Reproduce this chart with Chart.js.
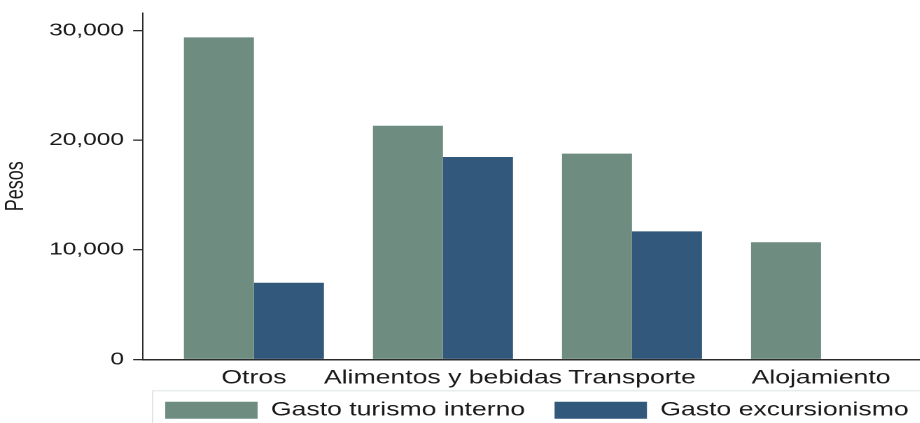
<!DOCTYPE html>
<html><head><meta charset="utf-8">
<script src="https://cdn.jsdelivr.net/npm/chart.js@4.4.1/dist/chart.umd.min.js"></script>
<style>
html,body{margin:0;padding:0;background:#fff;overflow:hidden;}
#frame{width:920px;height:423px;overflow:hidden;position:relative;background:#fff;}
#stretch{width:767px;height:423px;transform:scaleX(1.4);transform-origin:0 0;}
</style></head><body>
<div id="frame"><div id="stretch"><canvas id="c" width="767" height="423"></canvas></div></div>
<script>
const categories = ['Otros', 'Alimentos y bebidas', 'Transporte', 'Alojamiento'];
const seriesNames = ['Gasto turismo interno', 'Gasto excursionismo'];
const turismoInterno = [29380, 21320, 18770, 10690];
const excursionismo = [7000, 18470, 11690, null];
const yTicks = [0, 10000, 20000, 30000];

const FONT = '"Liberation Sans", Arial, Helvetica, sans-serif';
const TXT = '#1a1a1a';
const AXIS = '#2b2b2b';

const toPoints = arr => arr.map((v, i) => ({x: i, y: v}));

const legendFrame = {
  id: 'legendFrame',
  afterDraw(chart) {
    const lg = chart.legend;
    if (!lg || !lg.legendHitBoxes || !lg.legendHitBoxes.length) return;
    const hb = lg.legendHitBoxes[0];
    const c = chart.ctx;
    c.save();
    c.strokeStyle = '#dde5e5';
    c.lineWidth = 1;
    c.strokeRect(hb.left - 9, hb.top - 10, chart.width, chart.height);
    c.restore();
  }
};

new Chart(document.getElementById('c'), {
  type: 'bar',
  data: {
    datasets: [
      {label: seriesNames[0], data: toPoints(turismoInterno), backgroundColor: '#6e8c7f',
       borderWidth: 0, categoryPercentage: 0.7407, barPercentage: 1},
      {label: seriesNames[1], data: toPoints(excursionismo), backgroundColor: '#32587b',
       borderWidth: 0, categoryPercentage: 0.7407, barPercentage: 1}
    ]
  },
  options: {
    responsive: false,
    animation: false,
    devicePixelRatio: 2,
    layout: {padding: {left: 0, right: 0, top: 13, bottom: -6.8}},
    scales: {
      x: {
        type: 'linear', min: -0.587, max: 4.337, offset: false,
        grid: {display: false, drawTicks: false},
        border: {display: true, color: AXIS, width: 1.5},
        afterBuildTicks: s => { s.ticks = categories.map((c, i) => ({value: i})); },
        afterFit: s => { s.height = 20.3; s.paddingLeft = 0; s.paddingRight = 0; },
        ticks: {
          mirror: true,
          autoSkip: false, maxRotation: 0, minRotation: 0, padding: -30.3, color: TXT,
          font: {family: FONT, size: 19},
          callback: (v, i) => categories[i]
        }
      },
      y: {
        min: 0, max: 31600,
        afterBuildTicks: s => { s.ticks = yTicks.map(v => ({value: v})); },
        afterFit: s => { s.width = 102.1; s.paddingTop = 0; s.paddingBottom = 0; },
        grid: {drawOnChartArea: false, drawTicks: true, tickLength: 7, color: AXIS, lineWidth: 1.3},
        border: {display: true, color: AXIS, width: 1},
        ticks: {
          padding: 6.5, color: TXT, font: {family: FONT, size: 17.5},
          callback: v => Number(v).toLocaleString('en-US')
        },
        title: {display: true, text: 'Pesos', color: TXT, font: {family: FONT, size: 18},
                padding: {top: 0.8, bottom: 0}}
      }
    },
    plugins: {
      legend: {
        position: 'bottom', align: 'center',
        labels: {boxWidth: 66, boxHeight: 17, padding: 21, color: TXT, font: {family: FONT, size: 19}}
      },
      tooltip: {enabled: false}
    }
  },
  plugins: [legendFrame]
});
</script>
</body></html>
